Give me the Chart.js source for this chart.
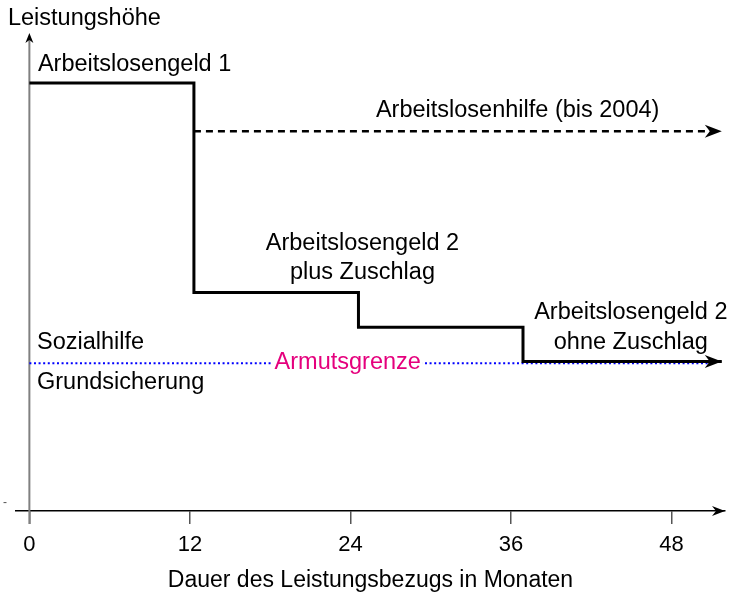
<!DOCTYPE html>
<html>
<head>
<meta charset="utf-8">
<script src="https://cdn.jsdelivr.net/npm/chart.js@4/dist/chart.umd.min.js"></script>
<style>
  html, body { margin: 0; padding: 0; background: #fff; }
  canvas { display: block; }
</style>
</head>
<body>
<canvas id="c" width="731" height="597"></canvas>
<script>
// ---- data ----
const xTicks = [0, 12, 24, 36, 48];
const xTitle = 'Dauer des Leistungsbezugs in Monaten';
const yTitle = 'Leistungshöhe';

// main benefit path (step line): months, level
const mainX = [0, 12.3, 24.6, 36.9, 51.76];
const mainY = [89.9, 45.9, 38.6, 31.4, 31.4];

// Arbeitslosenhilfe (bis 2004)
const alhiX = [12.3, 51.76];
const alhiY = [79.8, 79.8];

// Armutsgrenze
const povX = [0, 50.7];
const povY = [31.05, 31.05];

const FONT = '"Liberation Sans", Arial, Helvetica, sans-serif';

const toPts = (xs, ys) => xs.map((v, i) => ({ x: v, y: ys[i] }));

// text annotations in data units
const notes = [
  { text: yTitle, x: -1.6, y: 103.4, align: 'left', color: '#000' },
  { text: 'Arbeitslosengeld 1', x: 0.64, y: 93.9, align: 'left', color: '#000' },
  { text: 'Arbeitslosenhilfe (bis 2004)', x: 36.5, y: 84.1, align: 'center', color: '#000' },
  { text: 'Arbeitslosengeld 2', x: 24.9, y: 56.1, align: 'center', color: '#000' },
  { text: 'plus Zuschlag', x: 24.9, y: 50.0, align: 'center', color: '#000' },
  { text: 'Arbeitslosengeld 2', x: 44.96, y: 41.8, align: 'center', color: '#000' },
  { text: 'ohne Zuschlag', x: 44.96, y: 35.5, align: 'center', color: '#000' },
  { text: 'Sozialhilfe', x: 0.57, y: 35.5, align: 'left', color: '#000' },
  { text: 'Grundsicherung', x: 0.57, y: 26.9, align: 'left', color: '#000' },
  { text: 'Armutsgrenze', x: 23.8, y: 31.1, align: 'center', color: '#e5007d', bg: '#fff' }
];

function arrow(ctx, tx, ty, dir, len, half, notch, color) {
  ctx.save();
  ctx.translate(tx, ty);
  ctx.rotate(dir);
  ctx.beginPath();
  ctx.moveTo(0, 0);
  ctx.lineTo(-len, -half);
  ctx.lineTo(-len + notch, 0);
  ctx.lineTo(-len, half);
  ctx.closePath();
  ctx.fillStyle = color;
  ctx.fill();
  ctx.restore();
}

const annot = {
  id: 'annot',
  beforeDatasetsDraw(chart) {
    const { ctx, scales: { x, y }, chartArea } = chart;
    const x0 = x.getPixelForValue(0);
    ctx.save();
    ctx.strokeStyle = '#808080';
    ctx.lineWidth = 2;
    ctx.beginPath();
    ctx.moveTo(x0, chartArea.bottom + 13);
    ctx.lineTo(x0, chartArea.top + 2);
    ctx.stroke();
    ctx.restore();
    arrow(ctx, x0, chartArea.top - 2, -Math.PI / 2, 10, 4, 3, '#000');
  },
  afterDatasetsDraw(chart) {
    const { ctx, scales: { x, y }, chartArea } = chart;
    // arrowheads on series ends
    [0, 1].forEach(i => {
      const d = chart.getDatasetMeta(i).data;
      const p = d[d.length - 1];
      arrow(ctx, p.x, p.y, 0, 17, 6.5, 5, '#000');
    });
    // x axis arrowhead
    arrow(ctx, chartArea.right, chartArea.bottom, 0, 13, 5, 4, '#000');

    ctx.save();
    ctx.textBaseline = 'middle';
    ctx.font = '23.5px ' + FONT;
    notes.forEach(n => {
      const px = x.getPixelForValue(n.x);
      const py = y.getPixelForValue(n.y);
      ctx.textAlign = n.align;
      if (n.bg) {
        const w = ctx.measureText(n.text).width;
        const left = n.align === 'center' ? px - w / 2 : px;
        ctx.fillStyle = n.bg;
        ctx.fillRect(left - 2, py - 12, w + 4, 24);
      }
      ctx.fillStyle = n.color;
      ctx.fillText(n.text, px, py);
    });
    // stray tick mark on the y axis
    ctx.font = '12px ' + FONT;
    ctx.fillStyle = '#555';
    ctx.textAlign = 'left';
    ctx.fillText('-', x.getPixelForValue(-1.97), y.getPixelForValue(1.7));
    ctx.restore();
  }
};

new Chart(document.getElementById('c'), {
  type: 'line',
  data: {
    datasets: [
      {
        data: toPts(mainX, mainY),
        stepped: 'before',
        borderColor: '#000',
        borderWidth: 3,
        borderJoinStyle: 'miter',
        borderCapStyle: 'butt',
        pointRadius: 0,
        fill: false
      },
      {
        data: toPts(alhiX, alhiY),
        borderColor: '#000',
        borderWidth: 2.5,
        borderDash: [7, 5],
        borderCapStyle: 'butt',
        pointRadius: 0,
        fill: false
      },
      {
        data: toPts(povX, povY),
        borderColor: '#0000ff',
        borderWidth: 2,
        borderDash: [2, 2.6],
        borderCapStyle: 'butt',
        pointRadius: 0,
        fill: false
      }
    ]
  },
  options: {
    responsive: false,
    animation: false,
    events: [],
    layout: { padding: { left: 16, right: 6, top: 35, bottom: 0 } },
    plugins: { legend: { display: false }, tooltip: { enabled: false }, title: { display: false } },
    scales: {
      x: {
        type: 'linear',
        min: -1,
        max: 52,
        afterBuildTicks: s => { s.ticks = xTicks.map(v => ({ value: v })); },
        afterFit: s => { s.height = 86; },
        grid: { display: true, drawOnChartArea: false, drawTicks: true, tickLength: 13, color: '#555', lineWidth: 1.5 },
        border: { display: true, color: '#000', width: 1.5 },
        ticks: { font: { family: FONT, size: 22 }, color: '#000', padding: 8, maxRotation: 0, autoSkip: false },
        title: { display: true, text: xTitle, font: { family: FONT, size: 23 }, color: '#000', padding: { top: 0, bottom: 3 } }
      },
      y: {
        type: 'linear',
        min: 0,
        max: 100,
        display: false
      }
    }
  },
  plugins: [annot]
});
</script>
</body>
</html>
